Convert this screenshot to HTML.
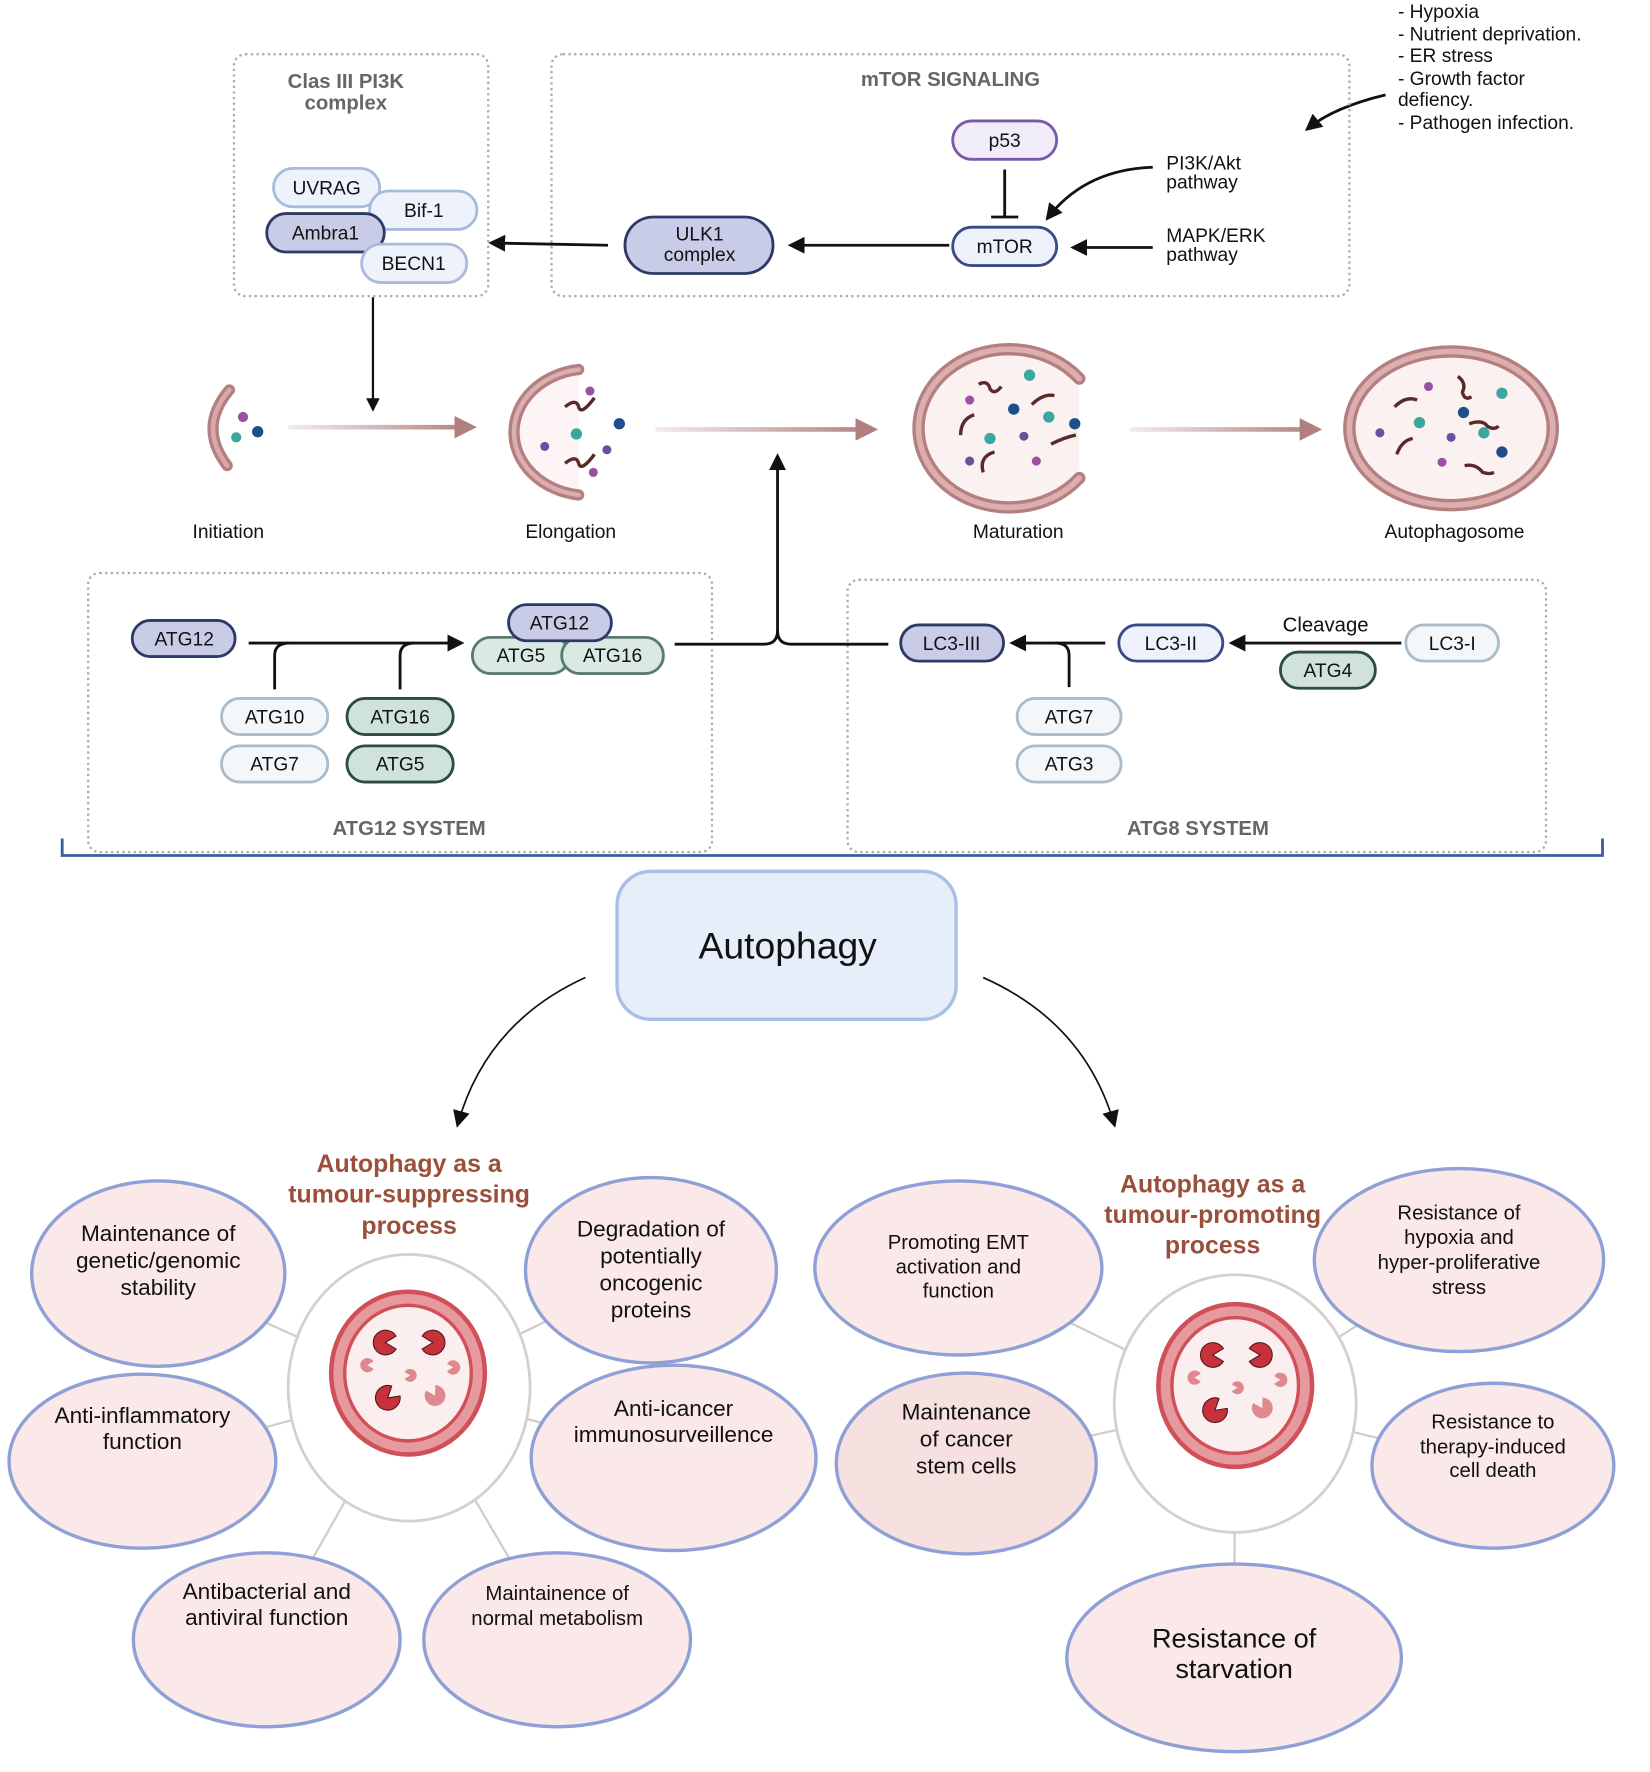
<!DOCTYPE html>
<html><head><meta charset="utf-8"><style>
html,body{margin:0;padding:0;background:#fff;}
svg{display:block;}
text{font-family:"Liberation Sans",sans-serif;}
</style></head><body>
<svg width="1650" height="1772" viewBox="0 0 1460 1568" xmlns="http://www.w3.org/2000/svg">
<defs>
<marker id="ah" viewBox="0 0 10 10" refX="8" refY="5" markerWidth="6" markerHeight="6" orient="auto"><path d="M0,0 L10,5 L0,10 Z" fill="#111"/></marker>
<marker id="ahb" viewBox="0 0 10 10" refX="8" refY="5" markerWidth="15" markerHeight="15" markerUnits="userSpaceOnUse" orient="auto"><path d="M0,0 L10,5 L0,10 Z" fill="#111"/></marker>
<marker id="ahp" viewBox="0 0 10 10" refX="8" refY="5" markerWidth="5" markerHeight="5" orient="auto"><path d="M0,0 L10,5 L0,10 Z" fill="#b07f80"/></marker>
<linearGradient id="pg1" gradientUnits="userSpaceOnUse" x1="255" x2="418" y1="0" y2="0"><stop offset="0" stop-color="#b07f80" stop-opacity="0.15"/><stop offset="1" stop-color="#b07f80"/></linearGradient>
<linearGradient id="pg2" gradientUnits="userSpaceOnUse" x1="580" x2="773" y1="0" y2="0"><stop offset="0" stop-color="#b07f80" stop-opacity="0.15"/><stop offset="1" stop-color="#b07f80"/></linearGradient>
<linearGradient id="pg3" gradientUnits="userSpaceOnUse" x1="1000" x2="1166" y1="0" y2="0"><stop offset="0" stop-color="#b07f80" stop-opacity="0.15"/><stop offset="1" stop-color="#b07f80"/></linearGradient>
<path id="pac" d="M0,0 L10,-6 A11.5,11.5 0 1,0 10,6 Z"/>
</defs>

<!-- stress list -->
<g font-size="17" fill="#111">
<text x="1237" y="16">- Hypoxia</text>
<text x="1237" y="36">- Nutrient deprivation.</text>
<text x="1237" y="55">- ER stress</text>
<text x="1237" y="75">- Growth factor</text>
<text x="1237" y="94">defiency.</text>
<text x="1237" y="114">- Pathogen infection.</text>
</g>
<path d="M1226,84 Q1180,95 1157,114" fill="none" stroke="#111" stroke-width="2.5" marker-end="url(#ah)"/>

<!-- boxes -->
<g fill="none" stroke="#aaa" stroke-width="2" stroke-dasharray="2,3">
<rect x="207" y="48" width="225" height="214" rx="10"/>
<rect x="488" y="48" width="706" height="214" rx="10"/>
<rect x="78" y="507" width="552" height="247" rx="10"/>
<rect x="750" y="513" width="618" height="241" rx="10"/>
</g>
<g font-size="18" font-weight="bold" fill="#666" text-anchor="middle">
<text x="306" y="78">Clas III PI3K</text>
<text x="306" y="97">complex</text>
<text x="841" y="76">mTOR SIGNALING</text>
<text x="362" y="739">ATG12 SYSTEM</text>
<text x="1060" y="739">ATG8 SYSTEM</text>
</g>

<!-- PI3K complex pills -->
<g stroke-width="2.5" font-size="17" text-anchor="middle" fill="#111">
<rect x="242" y="149" width="94" height="34" rx="17" fill="#eef3fb" stroke="#a9bbdc"/>
<text x="289" y="172">UVRAG</text>
<rect x="327" y="169" width="95" height="34" rx="17" fill="#eef3fb" stroke="#a9bbdc"/>
<text x="375" y="192">Bif-1</text>
<rect x="236" y="189" width="104" height="34" rx="17" fill="#c9cce6" stroke="#2e3a66"/>
<text x="288" y="212">Ambra1</text>
<rect x="320" y="216" width="93" height="34" rx="17" fill="#eef3fb" stroke="#a9bbdc"/>
<text x="366" y="239">BECN1</text>
</g>

<!-- mTOR -->
<g stroke-width="2.5" font-size="17" text-anchor="middle" fill="#111">
<rect x="843" y="107" width="92" height="34" rx="17" fill="#f1ecfa" stroke="#7a5aa8"/>
<text x="889" y="130">p53</text>
<rect x="843" y="201" width="92" height="34" rx="17" fill="#eef1fb" stroke="#3a4a86"/>
<text x="889" y="224">mTOR</text>
<rect x="553" y="192" width="131" height="50" rx="25" fill="#c9cce6" stroke="#2e3a66"/>
<text x="619" y="213">ULK1</text>
<text x="619" y="231">complex</text>
</g>
<g stroke="#111" stroke-width="2.5" fill="none">
<line x1="889" y1="150" x2="889" y2="192"/>
<line x1="877" y1="192" x2="901" y2="192"/>
<line x1="840" y1="217" x2="700" y2="217" marker-end="url(#ah)"/>
<line x1="538" y1="217" x2="435" y2="215" marker-end="url(#ah)"/>
<path d="M1020,148 Q960,150 927,193" marker-end="url(#ah)"/>
<line x1="1020" y1="219" x2="950" y2="219" marker-end="url(#ah)"/>
<line x1="330" y1="263" x2="330" y2="362" stroke-width="2" marker-end="url(#ah)"/>
</g>
<g font-size="17" fill="#111">
<text x="1032" y="150">PI3K/Akt</text>
<text x="1032" y="167">pathway</text>
<text x="1032" y="214">MAPK/ERK</text>
<text x="1032" y="231">pathway</text>
</g>

<!-- stages -->
<line x1="255" y1="378" x2="418" y2="378" stroke="url(#pg1)" stroke-width="4" marker-end="url(#ahp)"/>
<line x1="580" y1="380" x2="773" y2="380" stroke="url(#pg2)" stroke-width="4" marker-end="url(#ahp)"/>
<line x1="1000" y1="380" x2="1166" y2="380" stroke="url(#pg3)" stroke-width="4" marker-end="url(#ahp)"/>
<!-- initiation -->
<path d="M203,345 Q175,378 201,412" fill="none" stroke="#b47f80" stroke-width="10" stroke-linecap="round"/>
<path d="M203,345 Q175,378 201,412" fill="none" stroke="#d9a9a9" stroke-width="4" stroke-linecap="round"/>
<circle cx="215" cy="369" r="4.5" fill="#9a4fa0"/><circle cx="209" cy="387" r="4.5" fill="#3aa89e"/><circle cx="228" cy="382" r="5" fill="#1d4f8a"/>
<!-- elongation -->
<path d="M512,327 A66,56 0 0,0 512,438" fill="#fdf5f5" stroke="#b47f80" stroke-width="10" stroke-linecap="round"/>
<path d="M512,327 A66,56 0 0,0 512,438" fill="none" stroke="#dcaeae" stroke-width="4" stroke-linecap="round"/>
<!-- maturation -->
<path d="M955,335 A80,70 0 1,0 955,423" fill="#fbf1f1" stroke="#b47f80" stroke-width="11" stroke-linecap="round"/>
<path d="M955,335 A80,70 0 1,0 955,423" fill="none" stroke="#dcaeae" stroke-width="5" stroke-linecap="round"/>
<!-- autophagosome -->
<ellipse cx="1284" cy="379" rx="90" ry="68" fill="#fbf1f1" stroke="#b47f80" stroke-width="11"/>
<ellipse cx="1284" cy="379" rx="90" ry="68" fill="none" stroke="#dcaeae" stroke-width="5"/>
<g>
<circle cx="522" cy="346" r="4" fill="#9a4fa0"/><circle cx="548" cy="375" r="5" fill="#1d4f8a"/><circle cx="510" cy="384" r="5" fill="#3aa89e"/><circle cx="482" cy="395" r="4" fill="#6a4fa0"/><circle cx="537" cy="398" r="4" fill="#6a4fa0"/><circle cx="525" cy="418" r="4" fill="#9a4fa0"/>
<path d="M500,360 q10,-8 12,0 q2,8 14,-8" stroke="#5a2a2a" stroke-width="3" fill="none"/>
<path d="M500,410 q10,-8 12,0 q2,8 14,-8" stroke="#5a2a2a" stroke-width="3" fill="none"/>
<circle cx="911" cy="332" r="5" fill="#3aa89e"/><circle cx="858" cy="354" r="4" fill="#9a4fa0"/><circle cx="897" cy="362" r="5" fill="#1d4f8a"/><circle cx="928" cy="369" r="5" fill="#3aa89e"/><circle cx="951" cy="375" r="5" fill="#1d4f8a"/><circle cx="876" cy="388" r="5" fill="#3aa89e"/><circle cx="906" cy="386" r="4" fill="#6a4fa0"/><circle cx="858" cy="408" r="4" fill="#6a4fa0"/><circle cx="917" cy="408" r="4" fill="#9a4fa0"/>
<path d="M866,340 q8,-4 10,4 q4,6 10,-2 M913,358 q10,-10 20,-8 M850,385 q0,-14 12,-18 M930,393 q12,-6 22,-8 M870,418 q-4,-14 10,-18" stroke="#5a2a2a" stroke-width="3" fill="none"/>
<circle cx="1264" cy="342" r="4" fill="#9a4fa0"/><circle cx="1329" cy="348" r="5" fill="#3aa89e"/><circle cx="1295" cy="365" r="5" fill="#1d4f8a"/><circle cx="1256" cy="374" r="5" fill="#3aa89e"/><circle cx="1221" cy="383" r="4" fill="#6a4fa0"/><circle cx="1284" cy="387" r="4" fill="#6a4fa0"/><circle cx="1313" cy="383" r="5" fill="#3aa89e"/><circle cx="1329" cy="400" r="5" fill="#1d4f8a"/><circle cx="1276" cy="409" r="4" fill="#9a4fa0"/>
<path d="M1290,333 q8,6 4,14 q2,8 8,4 M1234,360 q10,-10 20,-6 M1300,375 q12,-4 16,2 q6,4 10,0 M1236,402 q4,-12 14,-14 M1296,412 q10,-2 16,6 q6,2 10,0" stroke="#5a2a2a" stroke-width="3" fill="none"/>
</g>
<g font-size="17" fill="#111" text-anchor="middle">
<text x="202" y="476">Initiation</text>
<text x="505" y="476">Elongation</text>
<text x="901" y="476">Maturation</text>
<text x="1287" y="476">Autophagosome</text>
</g>

<!-- ATG12 system -->
<g stroke="#111" stroke-width="2.5" fill="none">
<line x1="220" y1="569" x2="408" y2="569" marker-end="url(#ah)"/>
<path d="M243,610 L243,580 Q243,569 256,569"/>
<path d="M354,610 L354,580 Q354,569 367,569"/>
<path d="M597,570 L676,570 Q688,570 688,558 L688,404" marker-end="url(#ah)"/>
<path d="M786,570 L700,570 Q688,570 688,558"/>
<line x1="978" y1="569" x2="896" y2="569" marker-end="url(#ah)"/>
<path d="M946,608 L946,580 Q946,569 934,569"/>
<line x1="1240" y1="569" x2="1090" y2="569" marker-end="url(#ah)"/>
</g>
<g stroke-width="2.5" font-size="17" text-anchor="middle" fill="#111">
<rect x="117" y="549" width="91" height="32" rx="16" fill="#c9cce6" stroke="#2e3a66"/><text x="163" y="571">ATG12</text>
<rect x="418" y="564" width="86" height="32" rx="16" fill="#dbe9e5" stroke="#5a7a72"/><text x="461" y="586">ATG5</text>
<rect x="497" y="564" width="90" height="32" rx="16" fill="#dbe9e5" stroke="#5a7a72"/><text x="542" y="586">ATG16</text>
<rect x="450" y="535" width="91" height="32" rx="16" fill="#c9cce6" stroke="#2e3a66"/><text x="495" y="557">ATG12</text>
<rect x="196" y="618" width="94" height="32" rx="16" fill="#f3f7fa" stroke="#a8bccb"/><text x="243" y="640">ATG10</text>
<rect x="196" y="660" width="94" height="32" rx="16" fill="#f3f7fa" stroke="#a8bccb"/><text x="243" y="682">ATG7</text>
<rect x="307" y="618" width="94" height="32" rx="16" fill="#cfe3dc" stroke="#2f4a42"/><text x="354" y="640">ATG16</text>
<rect x="307" y="660" width="94" height="32" rx="16" fill="#cfe3dc" stroke="#2f4a42"/><text x="354" y="682">ATG5</text>
<rect x="797" y="553" width="91" height="32" rx="16" fill="#c9cce6" stroke="#2e3a66"/><text x="842" y="575">LC3-III</text>
<rect x="990" y="553" width="92" height="32" rx="16" fill="#eef1fb" stroke="#3a4a86"/><text x="1036" y="575">LC3-II</text>
<rect x="1244" y="553" width="82" height="32" rx="16" fill="#f3f7fa" stroke="#a8bccb"/><text x="1285" y="575">LC3-I</text>
<rect x="1133" y="577" width="84" height="32" rx="16" fill="#cfe3dc" stroke="#2f4a42"/><text x="1175" y="599">ATG4</text>
<rect x="900" y="618" width="92" height="32" rx="16" fill="#f3f7fa" stroke="#a8bccb"/><text x="946" y="640">ATG7</text>
<rect x="900" y="660" width="92" height="32" rx="16" fill="#f3f7fa" stroke="#a8bccb"/><text x="946" y="682">ATG3</text>
</g>
<text x="1173" y="559" font-size="18" text-anchor="middle" fill="#111">Cleavage</text>

<!-- bracket -->
<path d="M55,742 L55,757 L1418,757 L1418,742" fill="none" stroke="#3a5d9c" stroke-width="2.5"/>

<!-- Autophagy box -->
<rect x="546" y="771" width="300" height="131" rx="30" fill="#e6eefa" stroke="#a9c0e6" stroke-width="3"/>
<text x="697" y="848" font-size="33" text-anchor="middle" fill="#111">Autophagy</text>
<path d="M518,865 Q430,905 405,995" fill="none" stroke="#111" stroke-width="1.5" marker-end="url(#ahb)"/>
<path d="M870,865 Q960,905 986,995" fill="none" stroke="#111" stroke-width="1.5" marker-end="url(#ahb)"/>

<!-- connectors -->
<g stroke="#d0ccc8" stroke-width="2">
<line x1="362" y1="1228" x2="140" y2="1127"/><line x1="362" y1="1228" x2="576" y2="1124"/>
<line x1="362" y1="1228" x2="126" y2="1293"/><line x1="362" y1="1228" x2="596" y2="1290"/>
<line x1="362" y1="1228" x2="236" y2="1451"/><line x1="362" y1="1228" x2="493" y2="1451"/>
<line x1="1093" y1="1242" x2="848" y2="1122"/><line x1="1093" y1="1242" x2="1291" y2="1115"/>
<line x1="1093" y1="1242" x2="855" y2="1295"/><line x1="1093" y1="1242" x2="1321" y2="1297"/>
<line x1="1093" y1="1242" x2="1092" y2="1467"/>
</g>
<ellipse cx="362" cy="1228" rx="107" ry="118" fill="#fff" stroke="#d6d0cc" stroke-width="2.5"/>
<ellipse cx="1093" cy="1242" rx="107" ry="114" fill="#fff" stroke="#d6d0cc" stroke-width="2.5"/>

<!-- inner icons -->
<g transform="translate(361,1215)">
<ellipse rx="68" ry="72" fill="#e79a9e" stroke="#d0505a" stroke-width="4"/>
<ellipse rx="56" ry="60" fill="#fbeeee" stroke="#d0505a" stroke-width="3"/>
<use href="#pac" transform="translate(-20,-27) scale(0.95)" fill="#c8303c" stroke="#4a1a1a" stroke-width="1"/>
<use href="#pac" transform="translate(22,-27) rotate(180) scale(0.95)" fill="#c8303c" stroke="#4a1a1a" stroke-width="1"/>
<use href="#pac" transform="translate(-18,22) rotate(-40) scale(0.95)" fill="#c8303c" stroke="#4a1a1a" stroke-width="1"/>
<use href="#pac" transform="translate(24,20) rotate(-120) scale(0.8)" fill="#e08890"/>
<use href="#pac" transform="translate(-36,-7) scale(0.55)" fill="#e08890"/>
<use href="#pac" transform="translate(2,2) rotate(180) scale(0.5)" fill="#e08890"/>
<use href="#pac" transform="translate(40,-5) rotate(180) scale(0.55)" fill="#e08890"/>
</g>
<g transform="translate(1093,1226)">
<ellipse rx="68" ry="72" fill="#e79a9e" stroke="#d0505a" stroke-width="4"/>
<ellipse rx="56" ry="60" fill="#fbeeee" stroke="#d0505a" stroke-width="3"/>
<use href="#pac" transform="translate(-20,-27) scale(0.95)" fill="#c8303c" stroke="#4a1a1a" stroke-width="1"/>
<use href="#pac" transform="translate(22,-27) rotate(180) scale(0.95)" fill="#c8303c" stroke="#4a1a1a" stroke-width="1"/>
<use href="#pac" transform="translate(-18,22) rotate(-40) scale(0.95)" fill="#c8303c" stroke="#4a1a1a" stroke-width="1"/>
<use href="#pac" transform="translate(24,20) rotate(-120) scale(0.8)" fill="#e08890"/>
<use href="#pac" transform="translate(-36,-7) scale(0.55)" fill="#e08890"/>
<use href="#pac" transform="translate(2,2) rotate(180) scale(0.5)" fill="#e08890"/>
<use href="#pac" transform="translate(40,-5) rotate(180) scale(0.55)" fill="#e08890"/>
</g>

<!-- ellipses -->
<g fill="#fbe9e9" stroke="#8fa0d6" stroke-width="3">
<ellipse cx="140" cy="1127" rx="112" ry="82"/>
<ellipse cx="576" cy="1124" rx="111" ry="82"/>
<ellipse cx="126" cy="1293" rx="118" ry="77"/>
<ellipse cx="596" cy="1290" rx="126" ry="82"/>
<ellipse cx="236" cy="1451" rx="118" ry="77"/>
<ellipse cx="493" cy="1451" rx="118" ry="77"/>
<ellipse cx="848" cy="1122" rx="127" ry="77"/>
<ellipse cx="1291" cy="1115" rx="128" ry="81"/>
<ellipse cx="855" cy="1295" rx="115" ry="80" fill="#f6e0e0"/>
<ellipse cx="1321" cy="1297" rx="107" ry="73"/>
<ellipse cx="1092" cy="1467" rx="148" ry="83"/>
</g>

<g font-size="22" font-weight="bold" fill="#9b4f3a" text-anchor="middle">
<text x="362" y="1037">Autophagy as a</text>
<text x="362" y="1064">tumour-suppressing</text>
<text x="362" y="1092">process</text>
<text x="1073" y="1055">Autophagy as a</text>
<text x="1073" y="1082">tumour-promoting</text>
<text x="1073" y="1109">process</text>
</g>

<g font-size="20" fill="#111" text-anchor="middle">
<text x="140" y="1098">Maintenance of</text>
<text x="140" y="1122">genetic/genomic</text>
<text x="140" y="1146">stability</text>
<text x="576" y="1094">Degradation of</text>
<text x="576" y="1118">potentially</text>
<text x="576" y="1142">oncogenic</text>
<text x="576" y="1166">proteins</text>
<text x="126" y="1259">Anti-inflammatory</text>
<text x="126" y="1282">function</text>
<text x="596" y="1253">Anti-icancer</text>
<text x="596" y="1276">immunosurveillence</text>
<text x="236" y="1415">Antibacterial and</text>
<text x="236" y="1438">antiviral function</text>
<text x="855" y="1256">Maintenance</text>
<text x="855" y="1280">of cancer</text>
<text x="855" y="1304">stem cells</text>
</g>
<g font-size="18" fill="#111" text-anchor="middle">
<text x="493" y="1416">Maintainence of</text>
<text x="493" y="1438">normal metabolism</text>
<text x="848" y="1105">Promoting EMT</text>
<text x="848" y="1127">activation and</text>
<text x="848" y="1148">function</text>
<text x="1291" y="1079">Resistance of</text>
<text x="1291" y="1101">hypoxia and</text>
<text x="1291" y="1123">hyper-proliferative</text>
<text x="1291" y="1145">stress</text>
<text x="1321" y="1264">Resistance to</text>
<text x="1321" y="1286">therapy-induced</text>
<text x="1321" y="1307">cell death</text>
</g>
<g font-size="24" fill="#111" text-anchor="middle">
<text x="1092" y="1458">Resistance of</text>
<text x="1092" y="1485">starvation</text>
</g>
</svg>
</body></html>
